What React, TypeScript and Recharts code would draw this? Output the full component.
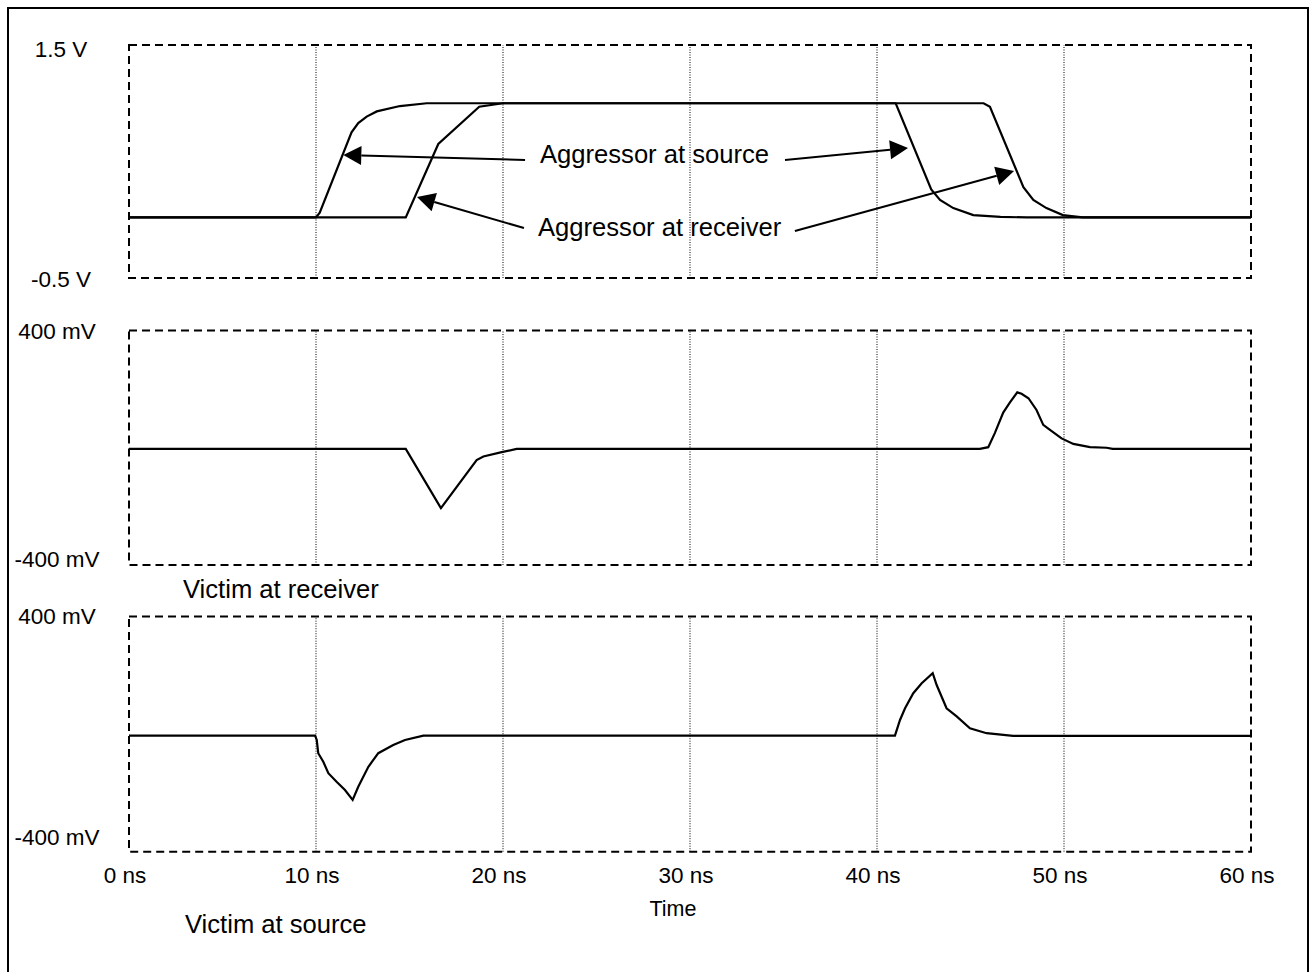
import React from 'react'
import { LineChart, Line, XAxis, YAxis, ReferenceLine, ReferenceArea } from 'recharts'

const FONT = '"Liberation Sans", Arial, Helvetica, sans-serif'

// time axis (ns)
const timeTicks = [0, 10, 20, 30, 40, 50, 60]
const timeLabels = ['0 ns', '10 ns', '20 ns', '30 ns', '40 ns', '50 ns', '60 ns']
const gridTimes = [10, 20, 30, 40, 50]

// panel 1: aggressor (V)
const aggTicks = [1.5, -0.5]
const aggLabels = ['1.5 V', '-0.5 V']
const aggSrcT = [0, 10.0, 10.2, 11.9, 12.26, 12.71, 13.25, 14.49, 15.92, 41.0, 42.9, 43.37, 44.08, 45.15, 46.6, 48.0, 60]
const aggSrcV = [0.02, 0.02, 0.06, 0.75, 0.83, 0.885, 0.93, 0.976, 1.0, 1.0, 0.26, 0.17, 0.1, 0.04, 0.025, 0.02, 0.02]
const aggRcvT = [0, 14.8, 16.54, 18.73, 20.0, 45.7, 46.04, 47.83, 48.36, 49.06, 49.94, 51.0, 60]
const aggRcvV = [0.02, 0.02, 0.65, 0.97, 1.0, 1.0, 0.97, 0.28, 0.17, 0.1, 0.04, 0.02, 0.02]

// panel 2: victim at receiver (mV)
const mvTicks = [400, -400]
const mvLabels = ['400 mV', '-400 mV']
const vicRcvT = [0, 14.8, 16.68, 18.59, 18.95, 19.93, 20.73, 45.5, 45.95, 46.3, 46.75, 47.11, 47.5, 47.73, 48.1, 48.53, 48.89, 49.25, 49.87, 50.5, 51.39, 52.28, 52.6, 60]
const vicRcvV = [-4, -4, -206, -42, -30, -15, -4, -4, 2, 50, 120, 155, 189, 184, 169, 129, 78, 61, 32, 13, 2, 0, -4, -4]

// panel 3: victim at source (mV)
const vicSrcT = [0, 9.95, 10.04, 10.12, 10.39, 10.66, 11.1, 11.55, 11.96, 12.26, 12.8, 13.33, 14.13, 14.76, 15.74, 40.96, 41.23, 41.5, 41.94, 42.39, 42.98, 43.19, 43.72, 44.26, 44.97, 45.86, 47.28, 60]
const vicSrcV = [-5, -5, -20, -65, -94, -133, -162, -190, -224, -179, -111, -65, -37, -20, -5, -5, 48, 88, 139, 173, 207, 167, 88, 60, 20, 3, -6, -6]

// annotation arrows in panel-1 data units: [from, to]
const arrows = [
  [{ x: 21.18, y: 0.513 }, { x: 11.46, y: 0.556 }],
  [{ x: 35.08, y: 0.513 }, { x: 41.66, y: 0.616 }],
  [{ x: 21.12, y: -0.071 }, { x: 15.4, y: 0.195 }],
  [{ x: 35.61, y: -0.097 }, { x: 47.33, y: 0.418 }],
]

const zip = (t: number[], v: number[]) => t.map((x, i) => ({ t: x, v: v[i] }))

const Arrow = (p: any) => {
  const { x1, y1, x2, y2 } = p
  const a = Math.atan2(y2 - y1, x2 - x1)
  const L = 18, W = 9.5
  const c = Math.cos(a), s = Math.sin(a)
  const bx = x2 - L * c, by = y2 - L * s
  return (
    <g>
      <line x1={x1} y1={y1} x2={bx} y2={by} stroke="#000" strokeWidth={2} />
      <polygon points={`${x2},${y2} ${bx + W * s},${by - W * c} ${bx - W * s},${by + W * c}`} fill="#000" />
    </g>
  )
}

interface PanelProps {
  top: number
  height: number
  margin: { top: number; right: number; bottom: number; left: number }
  domain: [number, number]
  yTicks: number[]
  yLabels: string[]
  labelX: number
  labelDy: [number, number]
  series: { t: number; v: number }[][]
  showX?: boolean
  children?: React.ReactNode
}

function Panel({ top, height, margin, domain, yTicks, yLabels, labelX, labelDy, series, showX, children }: PanelProps) {
  const YTick = ({ y, index }: any) => (
    <text x={labelX} y={y + labelDy[index]} textAnchor="middle" fontFamily={FONT} fontSize={22.5} fill="#000">
      {yLabels[index]}
    </text>
  )
  const XTick = ({ x, y, index }: any) => (
    <text x={x - 4} y={y + 31} textAnchor="middle" fontFamily={FONT} fontSize={22.5} fill="#000">
      {timeLabels[index]}
    </text>
  )
  return (
    <div style={{ position: 'absolute', left: 0, top }}>
      <LineChart width={1312} height={height} margin={margin}>
        <XAxis type="number" dataKey="t" domain={[0, 60]} ticks={timeTicks} hide={!showX}
          axisLine={false} tickLine={false} tickSize={0} tickMargin={0} height={60}
          tick={<XTick />} interval={0} allowDataOverflow />
        <YAxis type="number" domain={domain} ticks={yTicks} width={129} axisLine={false}
          tickLine={false} tickSize={0} tickMargin={0} tick={<YTick />} interval={0} allowDataOverflow />
        {gridTimes.map(g => (
          <ReferenceLine key={g} x={g} stroke="#000" strokeWidth={1} strokeDasharray="1 1.5" />
        ))}
        <ReferenceArea x1={0} x2={60} y1={domain[0]} y2={domain[1]} fill="none" fillOpacity={0}
          stroke="#000" strokeWidth={2} strokeDasharray="8 5" ifOverflow="visible" />
        {series.map((d, i) => (
          <Line key={i} data={d} dataKey="v" type="linear" stroke="#000" strokeWidth={2.2}
            dot={false} activeDot={false} isAnimationActive={false} />
        ))}
        {children}
      </LineChart>
    </div>
  )
}

export default function App() {
  const txt = { fontFamily: FONT, fill: '#000' }
  return (
    <div style={{ position: 'absolute', left: 0, top: 0, width: 1312, height: 972, overflow: 'hidden', background: '#fff' }}>
      <div style={{ position: 'absolute', left: 7, top: 7, width: 1302, height: 1000, border: '2px solid #000', boxSizing: 'border-box' }} />
      <Panel top={0} height={300} margin={{ top: 45, right: 61, bottom: 22, left: 0 }}
        domain={[-0.5, 1.5]} yTicks={aggTicks} yLabels={aggLabels} labelX={61} labelDy={[12, 9]}
        series={[zip(aggSrcT, aggSrcV), zip(aggRcvT, aggRcvV)]}>
        {arrows.map((seg, i) => (
          <ReferenceLine key={i} segment={seg} ifOverflow="visible" shape={Arrow} />
        ))}
      </Panel>
      <Panel top={300} height={290} margin={{ top: 30.5, right: 61, bottom: 25, left: 0 }}
        domain={[-400, 400]} yTicks={mvTicks} yLabels={mvLabels} labelX={57} labelDy={[8.5, 1.7]}
        series={[zip(vicRcvT, vicRcvV)]} />
      <Panel top={590} height={382} margin={{ top: 26.5, right: 61, bottom: 60.3, left: 0 }}
        domain={[-400, 400]} yTicks={mvTicks} yLabels={mvLabels} labelX={57} labelDy={[7.5, -6.7]}
        series={[zip(vicSrcT, vicSrcV)]} showX />
      <svg width={1312} height={972} style={{ position: 'absolute', left: 0, top: 0, pointerEvents: 'none' }}>
        <text x={540} y={163} fontSize={25.6} {...txt}>Aggressor at source</text>
        <text x={538} y={236} fontSize={25.6} {...txt}>Aggressor at receiver</text>
        <text x={183} y={598} fontSize={25.6} {...txt}>Victim at receiver</text>
        <text x={185} y={933} fontSize={25.6} {...txt}>Victim at source</text>
        <text x={673} y={916} fontSize={21.5} textAnchor="middle" {...txt}>Time</text>
      </svg>
    </div>
  )
}
